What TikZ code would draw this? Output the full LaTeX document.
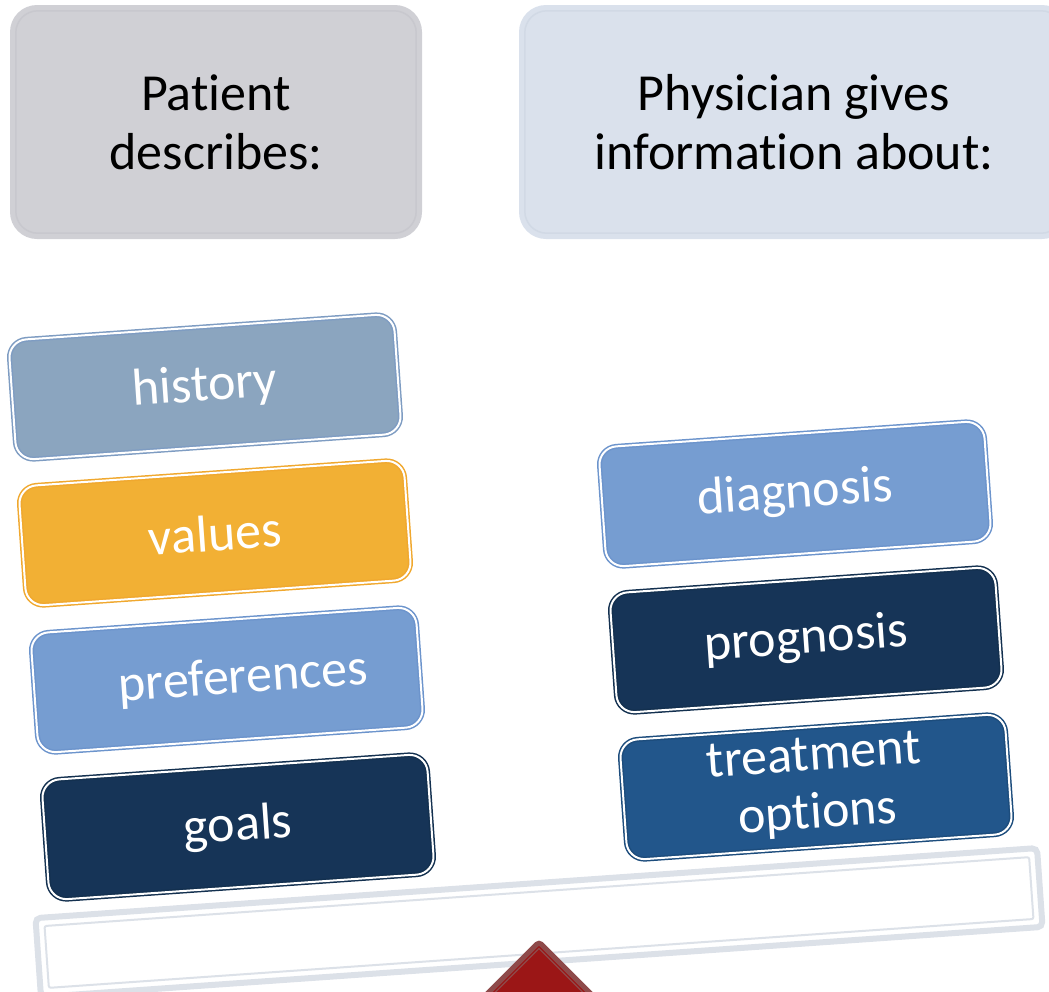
\documentclass[tikz,border=0pt]{standalone}
\usepackage{fontspec}
\setmainfont{Carlito}[Ligatures={NoCommon,NoContextual}]
% keep the t and i of "ti" as separate glyphs
\newcommand{\nolig}{\kern0pt }
\definecolor{patientgray}{HTML}{D0D0D5}
\definecolor{patientline}{HTML}{C8C8CE}
\definecolor{physblue}{HTML}{DAE1EC}
\definecolor{physline}{HTML}{D1D9E5}
\definecolor{slateblue}{HTML}{8BA5BF}
\definecolor{slateedge}{HTML}{7E9CC2}
\definecolor{amber}{HTML}{F2B034}
\definecolor{amberedge}{HTML}{F0A82E}
\definecolor{skyblue}{HTML}{769DD1}
\definecolor{skyedge}{HTML}{6C94CC}
\definecolor{navy}{HTML}{163457}
\definecolor{navyedge}{HTML}{13304F}
\definecolor{midblue}{HTML}{22568B}
\definecolor{midedge}{HTML}{1C4C7C}
\definecolor{beamgray}{HTML}{DCE1E8}
\definecolor{fulcrumred}{HTML}{9B1616}
\definecolor{fulcrumedge}{HTML}{8E4A4A}
\begin{document}
\begin{tikzpicture}[x=1pt,y=-1pt,
  header/.style={rectangle, rounded corners=27pt, inner sep=0pt, align=center,
    text=black, font=\fontsize{52}{59}\selectfont, minimum height=234pt},
  headline/.style={rounded corners=22pt, line width=1.5pt},
  card/.style={rectangle, rounded corners=18pt, rotate=4, inner sep=0pt,
    minimum width=386pt, minimum height=120pt, line width=1.5pt,
    double=white, double distance=2pt, align=center, text=white,
    font=\fontsize{52}{58}\selectfont},
  beamframe/.style={rectangle, rotate=4, rounded corners=5pt, draw=beamgray,
    minimum width=1004pt, minimum height=79pt, line width=6pt, fill=white},
  beamrule/.style={rectangle, rotate=4, rounded corners=2pt, draw=beamgray,
    minimum width=987pt, minimum height=62pt, line width=2pt}
]
\useasboundingbox (0,0) rectangle (1049,991);
\clip (0,0) rectangle (1049,991);

% column headings
\node[header, fill=patientgray, minimum width=412pt] (patient) at (216,122)
  {Pat\nolig ient\\describes:};
\draw[headline, draw=patientline]
  ([shift={(6,6)}]patient.north west) rectangle ([shift={(-6,-6)}]patient.south east);

\node[header, fill=physblue, minimum width=550pt] (physician) at (794,122)
  {Physician gives\\informat\nolig ion about:};
\draw[headline, draw=physline]
  ([shift={(6,6)}]physician.north west) rectangle ([shift={(-6,-6)}]physician.south east);

% balance beam
\node[beamframe] (beam) at (539,922.5) {};
\node[beamrule] (beamin) at (beam.center) {};

% fulcrum
\path[fill=fulcrumred, draw=fulcrumedge, line width=5pt, rounded corners=3pt]
  (539,942) -- (649,1052) -- (429,1052) -- cycle;
\draw[fulcrumedge, line width=1.2pt]
  (469,1018.4) -- (539,948.4) -- (609,1018.4);

% patient side
\node[card, fill=slateblue, draw=slateedge] (history) at (205,387) {history};
\node[card, fill=amber, draw=amberedge] (values) at (215,533) {values};
\node[card, fill=skyblue, draw=skyedge] (preferences) at (227,680)
  {\raisebox{8pt}{\hspace*{32pt}preferences}};
\node[card, fill=navy, draw=navyedge] (goals) at (238,827) {goals};

% physician side
\node[card, fill=skyblue, draw=skyedge] (diagnosis) at (795,494) {diagnosis};
\node[card, fill=navy, draw=navyedge] (prognosis) at (806,640) {prognosis};
\node[card, fill=midblue, draw=midedge] (treatment) at (816,787)
  {treatment\\opt\nolig ions};
\end{tikzpicture}
\end{document}
